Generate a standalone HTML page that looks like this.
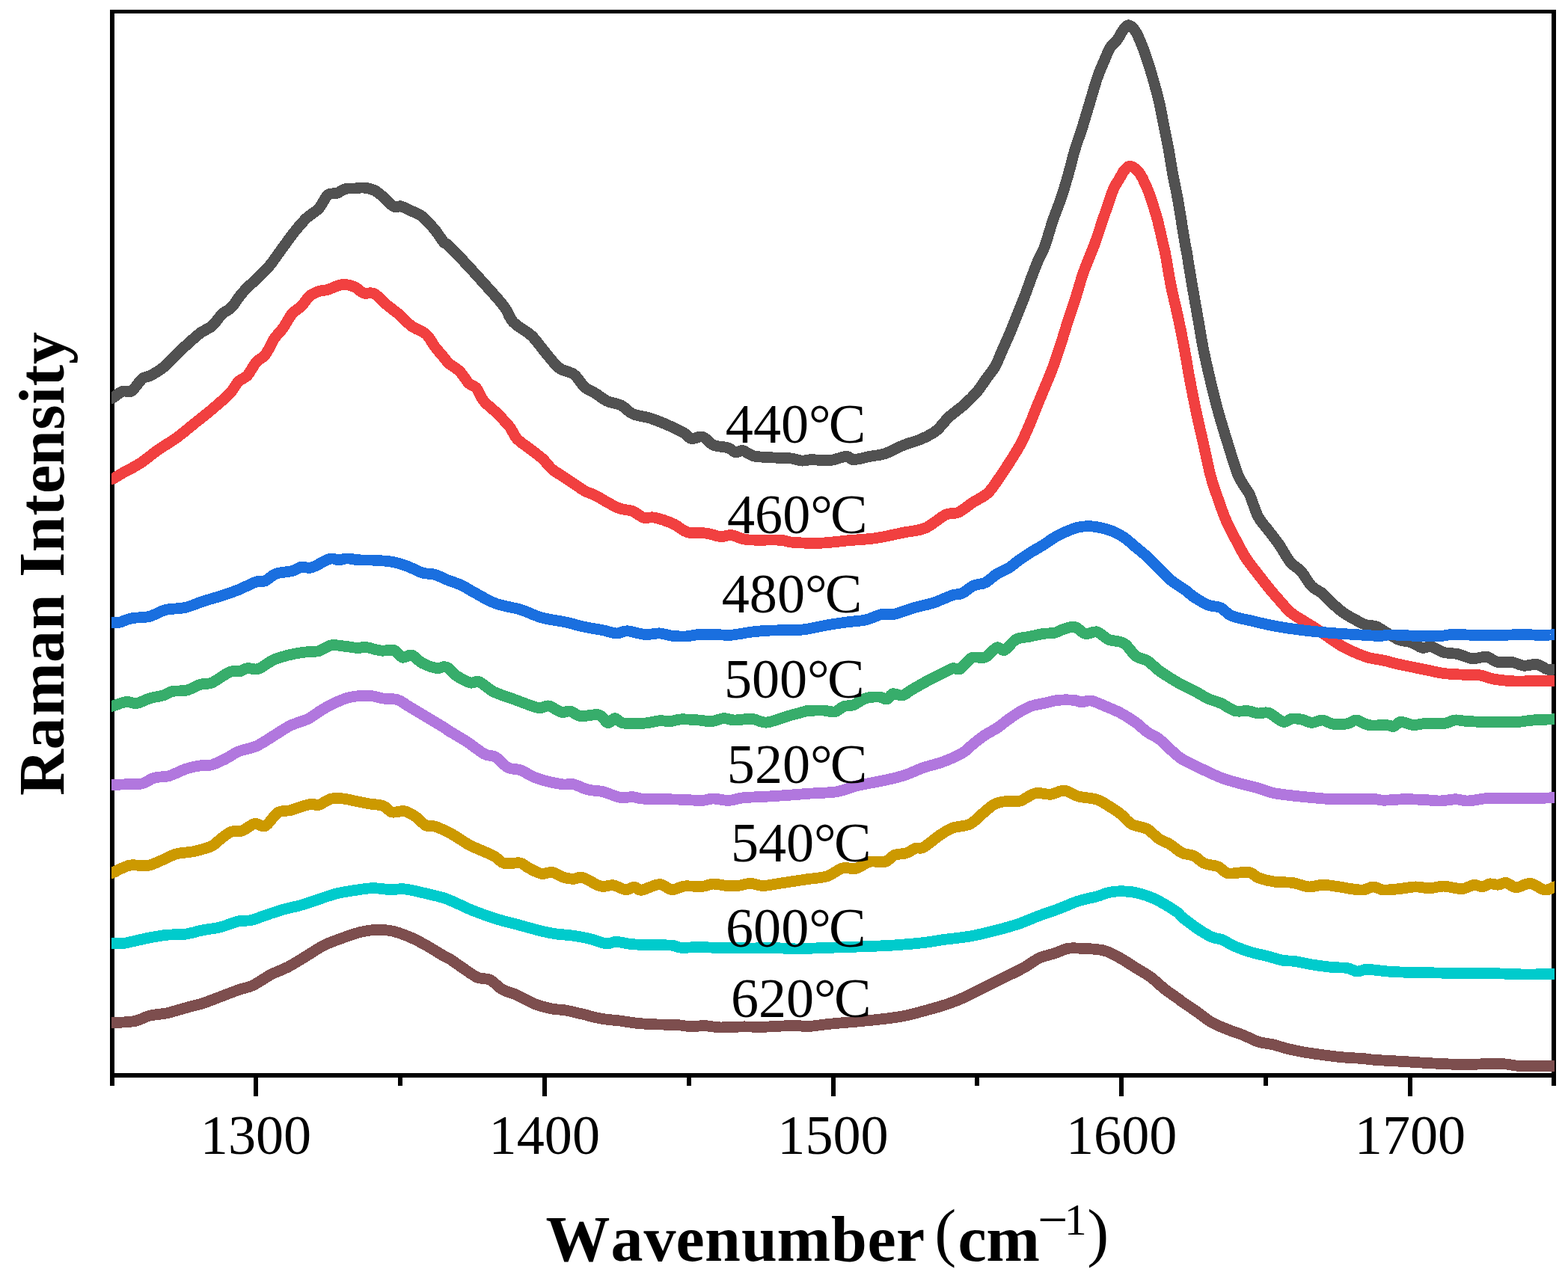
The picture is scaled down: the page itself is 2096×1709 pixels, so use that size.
<!DOCTYPE html>
<html lang="en"><head><meta charset="utf-8"><title>Raman spectra</title>
<style>html,body{margin:0;padding:0;background:#fff}body{width:2096px;height:1709px;overflow:hidden}svg{display:block}text{font-family:"Liberation Serif",serif;fill:#000;font-kerning:none}.tk{font-size:74.2px}.lb{font-size:74.2px}.ax{font-size:86px;font-weight:bold}.rg{font-weight:normal}.cv{fill:none;stroke-width:14.8;stroke-linejoin:round;stroke-linecap:butt}</style></head><body>
<svg width="2096" height="1709" viewBox="0 0 2096 1709">
<rect width="2096" height="1709" fill="#fff"/>
<defs><clipPath id="cp"><rect x="149" y="0" width="1929" height="1441"/></clipPath></defs>
<g fill="#000" shape-rendering="crispEdges">
<rect x="147" y="13" width="6" height="1439"/>
<rect x="2074" y="13" width="6" height="1439"/>
<rect x="147" y="13" width="1933" height="5"/>
<rect x="147" y="1435" width="1933" height="6"/>
<rect x="339" y="1435" width="6" height="31"/>
<rect x="725" y="1435" width="6" height="31"/>
<rect x="1111" y="1435" width="6" height="31"/>
<rect x="1496" y="1435" width="6" height="31"/>
<rect x="1882" y="1435" width="6" height="31"/>
<rect x="532" y="1435" width="6" height="17"/>
<rect x="918" y="1435" width="6" height="17"/>
<rect x="1303" y="1435" width="6" height="17"/>
<rect x="1689" y="1435" width="6" height="17"/>
</g>
<g clip-path="url(#cp)" shape-rendering="crispEdges">
<path class="cv" stroke="#515151" d="M147.0,532.0C147.6,532.0 147.9,533.5 150.7,532.0C153.5,530.5 159.7,524.7 163.9,523.2C168.1,521.7 171.4,525.8 175.8,523.0C180.2,520.2 185.7,510.0 190.1,506.5C194.5,503.0 197.2,504.4 202.0,501.8C206.8,499.2 213.1,495.6 218.7,491.0C224.3,486.4 229.8,479.7 235.4,474.3C241.0,468.9 246.5,463.8 252.1,458.8C257.7,453.8 263.6,448.3 268.8,444.5C274.0,440.7 278.3,440.4 283.1,436.2C287.9,432.0 293.0,423.7 297.4,419.5C301.8,415.3 305.0,415.7 309.4,411.1C313.8,406.5 318.1,398.4 323.7,392.0C329.3,385.6 336.8,378.9 342.8,373.0C348.8,367.1 353.9,362.9 359.5,356.3C365.1,349.7 370.6,341.2 376.2,333.6C381.8,326.0 387.3,317.9 392.9,310.9C398.5,303.9 404.1,297.2 409.6,291.8C415.2,286.4 421.4,283.9 426.2,278.7C431.0,273.5 434.2,264.2 438.2,260.8C442.2,257.4 446.1,259.8 450.1,258.4C454.1,257.0 458.0,253.6 462.0,252.5C466.0,251.4 470.0,252.2 474.0,252.0C478.0,251.8 481.5,250.6 485.9,251.0C490.3,251.4 495.8,252.4 500.2,254.4C504.6,256.4 507.7,259.6 512.1,263.2C516.5,266.8 522.5,274.2 526.5,276.3C530.5,278.4 532.0,274.9 536.0,275.9C540.0,276.9 545.5,280.0 550.3,282.3C555.1,284.6 559.4,285.3 564.6,289.5C569.8,293.7 576.5,301.6 581.3,307.3C586.1,313.1 590.2,320.4 593.3,324.0C596.4,327.6 594.8,323.5 600.0,328.6C605.2,333.7 616.4,345.6 624.6,354.4C632.8,363.2 640.9,372.2 649.1,381.4C657.3,390.6 667.6,401.5 673.7,409.7C679.9,417.9 679.9,424.1 686.0,430.6C692.1,437.2 703.6,442.4 710.6,449.0C717.6,455.6 721.7,462.7 727.8,469.9C733.9,477.1 740.8,486.9 747.4,492.0C754.0,497.1 761.4,496.3 767.1,500.6C772.8,504.9 776.9,513.5 781.8,517.8C786.7,522.1 791.7,523.3 796.6,526.4C801.5,529.5 805.6,533.5 811.3,536.2C817.0,538.9 825.3,539.5 831.0,542.4C836.7,545.3 839.2,550.5 845.7,553.4C852.2,556.3 862.1,556.9 870.3,559.6C878.5,562.3 887.4,566.1 894.8,569.4C902.2,572.7 909.6,576.3 914.5,579.2C919.4,582.1 920.2,585.8 924.3,586.6C928.4,587.4 934.2,582.7 939.1,584.1C944.0,585.5 948.1,592.7 953.8,595.2C959.5,597.7 968.6,597.3 973.5,598.9C978.4,600.5 980.0,604.4 983.3,605.0C986.6,605.6 989.0,601.8 993.1,602.6C997.2,603.4 1001.3,608.4 1007.9,609.9C1014.5,611.4 1024.2,611.4 1032.4,611.9C1040.6,612.4 1050.5,612.2 1057.0,612.9C1063.5,613.6 1067.1,615.8 1071.7,616.1C1076.3,616.4 1078.4,614.8 1084.6,614.7C1090.8,614.6 1101.3,616.4 1109.1,615.7C1116.9,615.0 1126.0,610.5 1131.3,610.3C1136.6,610.1 1135.8,614.7 1141.1,614.7C1146.4,614.7 1156.2,611.6 1163.2,610.3C1170.2,608.9 1175.5,609.1 1182.9,606.6C1190.3,604.1 1199.2,598.8 1207.4,595.5C1215.6,592.2 1224.6,590.2 1232.0,586.9C1239.4,583.6 1245.5,580.8 1251.6,575.9C1257.7,571.0 1262.6,563.1 1268.8,557.4C1275.0,551.7 1282.3,547.0 1288.5,541.5C1294.7,536.0 1300.8,530.0 1305.7,524.3C1310.6,518.6 1313.9,512.8 1318.0,507.1C1322.1,501.4 1326.6,496.4 1330.3,489.9C1334.0,483.3 1336.8,475.2 1340.1,467.8C1343.4,460.4 1346.6,453.5 1349.9,445.7C1353.2,437.9 1356.5,429.3 1359.8,421.1C1363.1,412.9 1366.3,405.1 1369.6,396.5C1372.9,387.9 1376.1,378.1 1379.4,369.5C1382.7,360.9 1386.3,351.7 1389.2,344.9C1392.1,338.1 1393.9,336.9 1396.9,328.6C1399.9,320.3 1403.7,305.8 1407.4,294.9C1411.1,284.0 1415.5,273.8 1419.0,263.3C1422.5,252.8 1425.5,242.2 1428.5,231.7C1431.5,221.2 1433.8,210.6 1436.9,200.1C1440.1,189.6 1444.1,179.0 1447.4,168.5C1450.7,158.0 1453.7,147.4 1456.9,136.9C1460.1,126.4 1463.4,114.1 1466.4,105.3C1469.4,96.5 1471.8,91.2 1474.8,84.2C1477.8,77.2 1481.1,68.5 1484.3,63.2C1487.5,58.0 1491.2,56.2 1493.8,52.7C1496.4,49.2 1497.6,45.3 1500.1,42.1C1502.5,38.9 1505.5,33.7 1508.5,33.7C1511.5,33.7 1514.8,37.2 1518.0,42.1C1521.2,47.0 1524.7,56.2 1527.5,63.2C1530.3,70.2 1532.5,77.2 1534.8,84.2C1537.1,91.2 1538.7,96.5 1541.2,105.3C1543.7,114.1 1547.1,126.4 1549.6,136.9C1552.0,147.4 1553.8,158.0 1555.9,168.5C1558.0,179.0 1560.3,189.6 1562.2,200.1C1564.1,210.6 1565.6,221.2 1567.5,231.7C1569.4,242.2 1571.9,252.8 1573.8,263.3C1575.7,273.8 1577.3,284.4 1579.1,294.9C1580.8,305.4 1583.0,319.0 1584.3,326.5C1585.6,334.0 1585.2,330.7 1586.8,340.0C1588.4,349.3 1591.3,368.1 1593.7,382.1C1596.1,396.1 1598.6,410.1 1601.1,424.2C1603.6,438.2 1605.7,452.3 1608.5,466.4C1611.3,480.4 1614.6,494.5 1617.9,508.5C1621.2,522.5 1624.6,536.6 1628.5,550.6C1632.4,564.6 1636.7,578.7 1641.1,592.7C1645.5,606.8 1650.9,625.1 1654.8,634.9C1658.7,644.7 1661.6,647.0 1664.3,651.7C1667.0,656.4 1668.2,656.5 1671.1,663.0C1674.0,669.5 1677.7,683.1 1681.9,691.0C1686.1,698.9 1691.4,703.7 1696.2,710.1C1701.0,716.5 1705.7,722.2 1710.5,729.2C1715.3,736.2 1720.0,746.0 1724.8,751.8C1729.6,757.6 1734.3,758.4 1739.1,763.8C1743.9,769.2 1748.6,779.0 1753.4,784.0C1758.2,789.0 1763.0,789.6 1767.8,793.6C1772.6,797.6 1777.3,803.5 1782.1,807.9C1786.9,812.3 1791.6,816.4 1796.4,819.8C1801.2,823.2 1805.9,825.6 1810.7,828.2C1815.5,830.8 1820.2,833.7 1825.0,835.3C1829.8,836.9 1834.5,835.9 1839.3,837.7C1844.1,839.5 1848.4,843.1 1853.6,846.1C1858.8,849.1 1864.7,853.4 1870.3,855.6C1875.9,857.8 1881.8,857.4 1887.0,859.2C1892.2,861.0 1896.9,865.4 1901.3,866.3C1905.7,867.2 1908.5,863.7 1913.3,864.7C1918.1,865.7 1924.0,870.6 1930.0,872.3C1936.0,874.0 1942.8,873.3 1949.1,874.7C1955.4,876.1 1961.8,880.1 1968.1,880.7C1974.4,881.3 1981.6,877.5 1987.2,878.3C1992.8,879.1 1995.9,884.2 2001.5,885.4C2007.1,886.6 2014.6,884.6 2020.6,885.4C2026.6,886.2 2031.7,889.7 2037.3,890.2C2042.9,890.7 2048.8,887.7 2054.0,888.5C2059.2,889.3 2064.3,893.9 2068.3,895.0C2072.3,896.1 2076.0,895.0 2077.9,895.0C2079.8,895.0 2079.7,895.0 2080.0,895.0"/>
<path class="cv" stroke="#f14040" d="M147.0,639.9C147.8,639.9 148.7,641.1 151.5,639.9C154.3,638.7 157.9,636.0 163.9,632.6C169.9,629.2 179.8,624.5 187.7,619.3C195.6,614.1 203.6,607.0 211.6,601.4C219.6,595.8 227.4,591.7 235.4,585.9C243.4,580.1 251.4,573.2 259.3,566.8C267.2,560.4 275.2,554.5 283.1,547.7C291.1,540.9 301.0,532.5 307.0,526.2C313.0,519.9 314.9,514.1 318.9,510.1C322.9,506.1 326.8,506.4 330.8,502.0C334.8,497.6 338.8,488.5 342.8,483.9C346.8,479.3 350.7,479.5 354.7,474.3C358.7,469.1 362.6,458.9 366.6,452.9C370.6,446.9 374.5,444.1 378.5,438.5C382.5,432.9 386.5,424.3 390.5,419.5C394.5,414.7 398.4,413.9 402.4,409.9C406.4,405.9 410.3,399.0 414.3,395.6C418.3,392.2 422.2,391.0 426.2,389.6C430.2,388.2 433.0,388.8 438.2,387.3C443.4,385.8 451.3,381.2 457.3,380.6C463.3,380.0 469.2,381.8 474.0,383.7C478.8,385.6 481.5,390.5 485.9,392.0C490.3,393.5 495.0,390.1 500.2,392.7C505.4,395.3 511.3,402.8 516.9,407.5C522.5,412.2 528.0,415.9 533.6,420.7C539.2,425.5 544.3,431.8 550.3,436.2C556.3,440.6 564.2,442.3 569.4,446.9C574.6,451.5 577.3,458.4 581.3,463.6C585.3,468.8 590.2,474.2 593.3,477.9C596.4,481.6 596.4,482.7 600.0,485.9C603.6,489.1 610.2,492.4 614.7,496.9C619.2,501.4 623.3,509.2 627.0,512.9C630.7,516.6 633.6,515.1 636.9,519.0C640.2,522.9 642.2,530.7 646.7,536.2C651.2,541.7 658.2,546.5 663.9,552.2C669.6,557.9 676.6,564.9 681.1,570.6C685.6,576.3 686.4,581.7 690.9,586.6C695.4,591.5 702.4,595.6 708.1,600.1C713.8,604.6 720.4,609.1 725.3,613.6C730.2,618.1 733.1,623.2 737.6,627.1C742.1,631.0 747.4,633.7 752.3,637.0C757.2,640.3 762.2,643.5 767.1,646.8C772.0,650.1 776.9,653.9 781.8,656.6C786.7,659.3 791.7,660.3 796.6,662.8C801.5,665.3 806.0,668.5 811.3,671.4C816.6,674.3 822.8,678.0 828.5,680.0C834.2,682.0 840.4,681.6 845.7,683.6C851.0,685.6 855.5,690.8 860.4,692.2C865.3,693.6 868.6,690.8 875.2,692.2C881.8,693.6 892.4,697.1 899.8,700.4C907.2,703.7 912.0,709.8 919.4,711.9C926.8,714.0 936.6,712.1 944.0,713.1C951.4,714.1 957.9,717.2 963.6,717.6C969.3,718.0 972.7,714.9 978.4,715.6C984.1,716.3 987.4,720.6 998.0,721.7C1008.6,722.8 1032.0,721.6 1042.3,722.2C1052.6,722.8 1050.9,724.6 1060.0,725.3C1069.1,726.0 1084.6,726.6 1096.9,726.2C1109.2,725.8 1121.4,723.9 1133.7,722.8C1146.0,721.7 1158.3,721.4 1170.6,719.6C1182.9,717.8 1196.4,714.5 1207.4,712.2C1218.5,710.0 1227.5,710.1 1236.9,706.1C1246.3,702.1 1256.5,691.9 1263.9,688.4C1271.3,684.9 1274.9,688.0 1281.1,685.2C1287.2,682.4 1294.2,676.0 1300.8,671.7C1307.3,667.4 1314.7,664.7 1320.4,659.4C1326.1,654.1 1330.3,646.8 1335.2,639.8C1340.1,632.8 1345.0,625.4 1349.9,617.6C1354.8,609.8 1360.2,601.7 1364.7,593.1C1369.2,584.5 1373.3,574.6 1377.0,566.0C1380.7,557.4 1383.1,550.5 1386.8,541.5C1390.5,532.5 1395.4,521.0 1399.1,512.0C1402.8,503.0 1405.6,496.4 1408.9,487.4C1412.2,478.4 1415.4,468.1 1418.7,457.9C1422.0,447.7 1425.3,436.2 1428.6,426.0C1431.9,415.8 1435.1,406.7 1438.4,396.5C1441.7,386.3 1444.1,376.3 1448.2,364.6C1452.3,352.9 1458.9,338.1 1463.2,326.5C1467.5,314.9 1470.8,303.7 1473.8,294.9C1476.8,286.1 1478.6,280.8 1481.1,273.8C1483.5,266.8 1485.9,258.7 1488.5,252.7C1491.1,246.7 1494.5,242.2 1496.9,238.0C1499.4,233.8 1500.8,230.1 1503.2,227.5C1505.6,224.9 1507.9,221.5 1511.2,222.2C1514.5,222.9 1519.5,226.6 1523.3,231.7C1527.1,236.8 1530.8,245.7 1533.8,252.7C1536.8,259.7 1538.9,266.8 1541.2,273.8C1543.5,280.8 1545.2,286.1 1547.5,294.9C1549.8,303.7 1553.1,319.0 1554.8,326.5C1556.5,334.0 1556.2,330.7 1557.9,340.0C1559.7,349.3 1562.5,368.1 1565.3,382.1C1568.1,396.1 1571.8,410.1 1574.8,424.2C1577.8,438.2 1580.6,452.3 1583.2,466.4C1585.8,480.4 1588.0,494.5 1590.6,508.5C1593.2,522.5 1596.0,536.6 1599.0,550.6C1602.0,564.6 1605.3,578.7 1608.5,592.7C1611.7,606.8 1615.0,623.7 1617.9,634.9C1620.8,646.1 1622.3,649.9 1625.8,660.0C1629.3,670.1 1634.3,685.1 1638.9,695.8C1643.5,706.5 1648.9,716.0 1653.3,724.4C1657.7,732.8 1660.8,739.1 1665.2,745.9C1669.6,752.7 1674.3,758.2 1679.5,765.0C1684.7,771.8 1691.0,780.0 1696.2,786.4C1701.4,792.8 1705.7,797.7 1710.5,803.1C1715.3,808.5 1720.0,814.4 1724.8,818.6C1729.6,822.8 1733.5,824.6 1739.1,828.2C1744.7,831.8 1751.8,835.9 1758.2,840.1C1764.6,844.3 1771.7,849.4 1777.3,853.2C1782.9,857.0 1786.0,859.6 1791.6,862.8C1797.2,866.0 1804.3,869.5 1810.7,872.3C1817.1,875.1 1823.4,877.7 1829.8,879.5C1836.2,881.3 1842.6,881.6 1848.9,883.0C1855.2,884.4 1862.3,886.5 1867.9,887.8C1873.5,889.1 1875.9,889.6 1882.3,890.9C1888.7,892.2 1898.1,894.1 1906.1,895.7C1914.0,897.3 1922.0,899.4 1930.0,900.5C1938.0,901.6 1945.8,901.7 1953.8,902.1C1961.8,902.5 1970.5,901.8 1977.7,902.8C1984.9,903.8 1988.8,906.7 1996.8,908.1C2004.8,909.5 2016.7,910.6 2025.4,911.0C2034.1,911.4 2040.4,910.6 2049.2,910.5C2057.9,910.4 2072.8,910.5 2077.9,910.5C2083.0,910.5 2079.7,910.5 2080.0,910.5"/>
<path class="cv" stroke="#1a6fdf" d="M147.0,832.4C147.6,832.4 148.5,832.4 150.7,832.4C152.9,832.4 155.8,833.1 160.0,832.2C164.2,831.3 169.2,828.1 175.8,826.8C182.4,825.5 192.1,826.3 199.6,824.4C207.1,822.5 213.1,817.6 221.1,815.6C229.1,813.6 239.0,814.4 247.3,812.5C255.7,810.6 263.2,806.8 271.2,804.2C279.2,801.6 287.2,799.6 295.1,797.0C303.1,794.4 310.9,791.8 318.9,788.6C326.8,785.4 336.8,779.9 342.8,777.9C348.8,775.9 350.3,778.5 354.7,776.7C359.1,774.9 363.0,769.4 369.0,767.2C375.0,765.0 384.9,765.1 390.5,763.6C396.1,762.1 398.0,759.1 402.4,758.3C406.8,757.5 410.3,760.6 416.7,758.8C423.1,757.0 434.6,749.1 440.6,747.4C446.6,745.7 448.5,748.9 452.5,748.8C456.5,748.7 460.0,746.9 464.4,746.9C468.8,746.9 472.3,748.4 478.7,748.8C485.1,749.2 494.6,748.8 502.6,749.3C510.6,749.8 519.4,750.3 526.5,751.7C533.6,753.1 539.1,755.2 545.5,757.6C551.9,760.0 558.6,764.2 564.6,766.0C570.6,767.8 575.7,766.8 581.3,768.4C586.9,770.0 592.0,773.1 598.0,775.5C604.0,777.9 611.6,780.2 617.1,782.7C622.6,785.2 623.5,786.6 631.0,790.6C638.5,794.6 651.3,802.7 662.0,806.8C672.7,810.9 685.1,811.9 695.4,815.1C705.7,818.3 714.0,823.1 724.0,825.9C734.0,828.7 745.6,829.7 755.1,831.8C764.6,833.9 772.9,836.5 781.3,838.3C789.6,840.1 798.1,841.2 805.2,842.6C812.4,844.0 818.7,846.7 824.2,846.9C829.8,847.1 832.1,843.5 838.5,843.8C844.9,844.1 855.2,848.0 862.4,848.5C869.6,849.0 875.5,846.6 881.5,846.9C887.5,847.2 892.2,849.5 898.2,850.2C904.2,850.9 911.3,851.2 917.3,850.9C923.3,850.6 927.2,848.9 934.0,848.5C940.8,848.1 950.6,848.4 957.8,848.5C964.9,848.6 968.9,849.9 976.9,849.3C984.9,848.7 996.8,846.0 1005.5,845.0C1014.2,844.0 1019.5,843.5 1029.4,843.1C1039.4,842.7 1056.8,843.0 1065.2,842.6C1073.6,842.2 1073.2,842.1 1080.0,841.0C1086.8,839.9 1097.2,837.4 1105.8,835.9C1114.4,834.4 1122.9,833.2 1131.5,832.0C1140.1,830.8 1149.6,830.6 1157.3,828.9C1165.0,827.2 1171.5,823.0 1177.9,821.7C1184.3,820.4 1188.6,822.7 1195.9,821.2C1203.2,819.7 1213.1,815.2 1221.7,812.7C1230.3,810.2 1238.9,809.0 1247.5,806.2C1256.1,803.4 1266.8,798.0 1273.2,795.9C1279.6,793.8 1281.4,795.5 1286.1,793.4C1290.8,791.3 1296.4,785.5 1301.6,783.1C1306.8,780.7 1311.8,781.8 1317.0,779.2C1322.2,776.6 1327.3,770.8 1332.5,767.6C1337.7,764.4 1342.8,763.1 1347.9,759.9C1353.1,756.7 1358.2,751.9 1363.4,748.3C1368.6,744.6 1373.8,741.2 1378.9,738.0C1384.1,734.8 1389.2,732.2 1394.3,729.0C1399.4,725.8 1404.6,721.6 1409.8,718.6C1415.0,715.6 1420.0,713.1 1425.2,710.9C1430.4,708.7 1435.6,706.4 1440.7,705.2C1445.8,704.0 1450.9,703.6 1456.1,703.7C1461.2,703.8 1466.4,704.7 1471.6,705.8C1476.8,706.9 1481.9,708.3 1487.1,710.4C1492.2,712.5 1497.3,715.1 1502.5,718.6C1507.7,722.1 1512.8,727.2 1518.0,731.5C1523.2,735.8 1528.2,739.7 1533.4,744.4C1538.6,749.1 1543.8,754.8 1548.9,759.9C1554.1,765.0 1558.3,770.4 1564.3,775.3C1570.3,780.2 1579.7,785.6 1585.0,789.5C1590.3,793.4 1591.0,795.1 1596.0,798.4C1601.0,801.7 1609.1,806.7 1615.1,809.1C1621.1,811.5 1626.6,810.3 1631.8,812.7C1637.0,815.1 1638.9,820.4 1646.1,823.4C1653.2,826.4 1665.2,828.3 1674.7,830.6C1684.2,832.9 1692.6,835.0 1703.3,837.0C1714.0,839.0 1727.2,841.0 1739.1,842.5C1751.0,844.0 1763.0,845.1 1774.9,846.1C1786.8,847.1 1799.2,847.8 1810.7,848.5C1822.2,849.2 1836.1,850.3 1844.1,850.4C1852.0,850.5 1850.1,848.9 1858.4,848.9C1866.8,848.9 1883.5,850.1 1894.2,850.4C1904.9,850.7 1914.8,851.1 1922.8,850.8C1930.8,850.5 1932.8,848.7 1941.9,848.5C1951.1,848.3 1967.8,849.4 1977.7,849.6C1987.6,849.8 1991.6,849.8 2001.5,849.6C2011.4,849.4 2027.3,848.5 2037.3,848.5C2047.2,848.5 2054.4,849.6 2061.2,849.6C2068.0,849.6 2074.8,848.7 2077.9,848.5C2081.0,848.3 2079.7,848.5 2080.0,848.5"/>
<path class="cv" stroke="#37ad6b" d="M147.0,944.0C147.6,944.0 147.1,944.9 150.7,944.0C154.3,943.1 163.2,939.2 168.6,938.6C174.0,938.0 177.7,941.3 182.9,940.5C188.1,939.7 193.6,935.8 199.6,934.0C205.6,932.2 213.5,931.3 218.7,929.7C223.9,928.1 225.4,925.6 230.6,924.5C235.8,923.4 243.3,924.6 249.7,923.0C256.1,921.4 263.2,916.7 268.8,915.0C274.4,913.3 276.7,915.7 283.1,913.0C289.5,910.3 300.6,901.3 307.0,898.7C313.4,896.1 317.3,898.4 321.3,897.5C325.3,896.6 326.8,894.0 330.8,893.5C334.8,893.0 339.2,896.3 345.2,894.4C351.2,892.5 359.1,885.2 366.6,882.0C374.2,878.8 382.6,876.7 390.5,874.9C398.4,873.1 408.4,872.0 414.3,871.3C420.2,870.6 421.4,872.0 426.2,870.6C431.0,869.2 436.9,863.9 442.9,862.9C448.9,861.9 456.0,863.8 462.0,864.4C468.0,865.0 474.3,866.4 478.7,866.5C483.1,866.6 483.1,864.7 488.3,865.3C493.5,865.9 503.4,869.4 509.8,870.1C516.2,870.8 521.7,868.1 526.5,869.6C531.3,871.1 534.4,878.1 538.4,879.2C542.4,880.3 545.9,874.8 550.3,876.1C554.7,877.4 559.0,883.9 564.6,886.8C570.2,889.7 578.9,892.7 583.7,893.5C588.5,894.3 590.6,891.5 593.3,891.6C596.0,891.7 597.2,891.9 600.0,893.9C602.8,895.9 605.2,900.3 610.0,903.5C614.8,906.7 623.5,911.6 628.6,913.0C633.7,914.4 635.4,909.8 640.6,911.8C645.8,913.8 651.7,920.9 659.6,924.9C667.5,928.9 678.3,932.0 688.3,935.6C698.2,939.2 711.8,945.0 719.3,946.4C726.8,947.8 728.4,943.0 733.6,944.0C738.8,945.0 745.5,951.1 750.3,952.3C755.1,953.5 757.8,950.2 762.2,951.1C766.6,952.0 770.1,956.8 776.5,957.6C782.9,958.4 794.4,954.4 800.4,955.9C806.4,957.4 808.7,965.8 812.3,966.6C815.9,967.4 818.3,960.6 821.9,960.7C825.5,960.8 827.0,966.0 833.8,967.1C840.5,968.2 854.4,967.7 862.4,967.1C870.4,966.5 875.9,964.2 881.5,963.8C887.1,963.4 891.0,965.0 895.8,964.7C900.6,964.4 903.7,962.2 910.1,961.9C916.5,961.6 927.2,962.5 934.0,963.0C940.8,963.5 945.1,965.1 950.7,964.7C956.3,964.3 962.2,961.0 967.4,960.7C972.6,960.4 975.4,962.9 981.7,963.0C988.1,963.1 998.4,960.9 1005.5,961.4C1012.6,961.9 1016.6,966.7 1024.6,966.1C1032.5,965.5 1044.5,960.1 1053.2,957.6C1062.0,955.1 1072.6,952.3 1077.1,951.1C1081.6,949.9 1076.1,950.7 1080.0,950.5C1083.9,950.3 1094.6,949.8 1100.6,950.0C1106.6,950.2 1111.4,952.7 1116.0,951.8C1120.6,950.9 1123.8,946.1 1128.0,944.6C1132.2,943.1 1136.1,944.4 1141.0,942.6C1145.9,940.8 1151.6,935.6 1157.3,933.8C1163.0,932.0 1170.6,931.8 1175.3,932.0C1180.0,932.2 1182.6,935.7 1185.6,935.0C1188.6,934.3 1190.0,928.6 1193.4,927.8C1196.8,926.9 1201.9,930.8 1206.2,929.9C1210.5,929.0 1213.5,925.4 1219.1,922.2C1224.7,919.0 1232.8,914.2 1239.7,910.6C1246.6,907.0 1254.7,903.1 1260.3,900.3C1265.9,897.5 1269.3,894.8 1273.2,893.8C1277.1,892.8 1279.2,896.8 1283.5,894.4C1287.8,892.0 1293.4,882.3 1299.0,879.7C1304.6,877.1 1311.4,881.2 1317.0,878.9C1322.6,876.6 1328.2,867.6 1332.5,866.0C1336.8,864.4 1338.5,871.2 1342.8,869.4C1347.1,867.6 1352.6,858.2 1358.2,855.2C1363.8,852.2 1370.3,852.6 1376.3,851.3C1382.3,850.0 1388.7,848.4 1394.3,847.5C1399.9,846.6 1405.1,847.3 1409.8,846.2C1414.5,845.1 1418.1,842.3 1422.6,841.0C1427.1,839.7 1432.1,837.3 1436.8,838.4C1441.5,839.5 1446.1,846.4 1451.0,847.5C1455.9,848.6 1461.2,843.6 1466.4,844.9C1471.6,846.2 1475.9,852.6 1481.9,855.2C1487.9,857.8 1496.5,856.6 1502.5,860.3C1508.5,863.9 1512.8,873.2 1518.0,877.1C1523.2,881.0 1528.2,880.3 1533.4,883.5C1538.6,886.7 1543.8,892.5 1548.9,896.4C1554.1,900.3 1559.2,903.5 1564.3,906.7C1569.4,909.9 1574.5,912.9 1579.8,915.7C1585.1,918.5 1590.1,920.5 1596.0,923.6C1601.9,926.7 1609.1,931.5 1615.1,934.3C1621.1,937.1 1625.8,937.6 1631.8,940.3C1637.8,943.0 1644.9,948.9 1650.9,950.6C1656.9,952.3 1662.4,950.1 1667.6,950.6C1672.8,951.1 1677.1,953.4 1681.9,953.9C1686.7,954.4 1690.6,951.5 1696.2,953.4C1701.8,955.3 1710.1,964.0 1715.3,965.3C1720.5,966.6 1722.8,961.5 1727.2,961.0C1731.6,960.5 1737.1,961.6 1741.5,962.5C1745.9,963.4 1749.0,966.4 1753.4,966.5C1757.8,966.6 1763.0,962.7 1767.8,963.0C1772.6,963.3 1776.5,967.4 1782.1,968.2C1787.7,969.0 1796.0,968.6 1801.2,967.7C1806.4,966.8 1808.3,962.7 1813.1,963.0C1817.9,963.3 1823.0,968.5 1829.8,969.6C1836.5,970.7 1848.0,969.3 1853.6,969.6C1859.2,969.9 1860.0,972.0 1863.2,971.3C1866.4,970.6 1868.3,965.6 1872.7,965.3C1877.1,965.0 1883.8,969.3 1889.4,969.6C1895.0,969.9 1899.3,967.6 1906.1,967.3C1912.9,967.0 1923.6,968.4 1930.0,967.7C1936.4,967.0 1939.5,963.6 1944.3,963.0C1949.1,962.4 1953.0,963.8 1958.6,964.2C1964.2,964.6 1970.5,965.1 1977.7,965.3C1984.9,965.5 1993.5,965.2 2001.5,965.3C2009.5,965.4 2017.5,966.2 2025.4,965.8C2033.4,965.4 2040.4,963.7 2049.2,963.0C2057.9,962.3 2072.8,962.0 2077.9,961.8C2083.0,961.6 2079.7,961.8 2080.0,961.8"/>
<path class="cv" stroke="#b177de" d="M147.0,1049.5C147.6,1049.5 145.9,1049.7 150.7,1049.5C155.5,1049.3 169.2,1048.8 175.8,1048.5C182.4,1048.2 184.9,1049.2 190.1,1047.8C195.3,1046.4 200.8,1041.7 206.8,1040.0C212.8,1038.3 219.2,1039.5 225.9,1037.6C232.7,1035.7 240.6,1031.0 247.3,1028.7C254.1,1026.4 260.4,1025.0 266.4,1024.0C272.4,1023.0 277.1,1024.4 283.1,1022.8C289.1,1021.2 296.2,1017.4 302.2,1014.4C308.2,1011.4 312.1,1007.7 318.9,1004.9C325.7,1002.1 334.9,1001.3 342.8,997.7C350.8,994.1 359.1,988.0 366.6,983.4C374.2,978.8 380.6,974.0 388.1,970.3C395.7,966.6 404.8,964.8 411.9,961.2C419.0,957.6 424.6,952.5 431.0,948.8C437.4,945.1 443.7,941.6 450.1,938.8C456.5,936.0 462.0,933.5 469.2,932.1C476.4,930.7 486.0,929.9 493.1,930.2C500.2,930.5 505.8,933.1 512.1,934.0C518.5,934.9 525.6,934.0 531.2,935.7C536.8,937.4 539.1,940.2 545.5,944.0C551.9,947.8 561.4,953.6 569.4,958.4C577.4,963.2 588.2,969.5 593.3,972.7C598.4,975.9 594.9,974.2 600.0,977.4C605.1,980.6 615.9,986.5 623.9,991.7C631.9,996.9 641.4,1005.0 647.7,1008.4C654.1,1011.8 656.8,1009.0 662.0,1012.0C667.2,1015.0 673.1,1023.3 678.7,1026.3C684.3,1029.3 689.4,1027.6 695.4,1029.8C701.4,1032.0 708.1,1036.8 714.5,1039.4C720.9,1042.0 727.2,1043.7 733.6,1045.3C740.0,1046.9 747.1,1048.3 752.7,1048.9C758.3,1049.5 761.4,1047.7 767.0,1048.9C772.6,1050.1 779.7,1054.5 786.1,1056.1C792.5,1057.7 798.1,1056.8 805.2,1058.5C812.4,1060.2 822.2,1065.1 829.0,1066.3C835.8,1067.5 840.9,1065.3 845.7,1065.6C850.5,1065.9 850.8,1067.5 857.6,1068.0C864.4,1068.5 877.5,1068.5 886.3,1068.7C895.0,1068.9 901.4,1068.9 910.1,1069.2C918.8,1069.5 931.5,1070.6 938.7,1070.4C945.9,1070.2 947.1,1068.0 953.1,1068.0C959.1,1068.0 967.8,1070.6 974.5,1070.4C981.2,1070.2 984.5,1067.7 993.6,1066.8C1002.8,1065.9 1017.5,1065.6 1029.4,1064.9C1041.3,1064.2 1056.8,1063.1 1065.2,1062.5C1073.6,1061.9 1071.1,1061.9 1080.0,1061.3C1088.9,1060.7 1107.9,1060.4 1118.6,1058.7C1129.3,1057.0 1133.7,1053.6 1144.4,1051.0C1155.2,1048.4 1172.4,1045.7 1183.1,1043.3C1193.8,1040.9 1200.2,1039.6 1208.8,1036.8C1217.4,1034.0 1226.0,1029.5 1234.6,1026.5C1243.2,1023.5 1251.7,1022.0 1260.3,1018.8C1268.9,1015.6 1279.2,1011.3 1286.1,1007.2C1293.0,1003.1 1296.4,998.4 1301.6,994.3C1306.8,990.2 1311.8,986.1 1317.0,982.7C1322.2,979.3 1327.3,977.1 1332.5,973.7C1337.7,970.3 1342.8,965.8 1347.9,962.1C1353.1,958.5 1358.2,954.8 1363.4,951.8C1368.6,948.8 1373.8,946.0 1378.9,944.1C1384.1,942.2 1388.3,942.0 1394.3,940.7C1400.3,939.4 1408.0,937.0 1414.9,936.3C1421.8,935.6 1430.3,935.9 1435.5,936.3C1440.7,936.7 1441.9,938.8 1445.8,938.9C1449.7,939.0 1453.5,936.2 1458.7,937.1C1463.9,938.0 1470.2,941.4 1476.7,944.1C1483.2,946.8 1490.5,949.5 1497.4,953.1C1504.3,956.8 1512.0,961.7 1518.0,966.0C1524.0,970.3 1528.2,975.2 1533.4,978.9C1538.6,982.5 1543.8,984.0 1548.9,987.9C1554.1,991.8 1559.1,997.5 1564.3,1002.0C1569.5,1006.5 1572.9,1010.6 1580.0,1015.0C1587.1,1019.4 1597.9,1024.2 1606.9,1028.5C1615.9,1032.8 1624.8,1037.2 1633.8,1040.6C1642.8,1043.9 1652.7,1046.4 1660.8,1048.6C1668.9,1050.8 1675.6,1052.1 1682.3,1054.0C1689.0,1055.9 1693.5,1058.5 1701.1,1060.2C1708.7,1061.9 1719.0,1062.9 1728.0,1064.0C1737.0,1065.1 1746.0,1065.9 1755.0,1066.7C1764.0,1067.5 1772.9,1068.5 1781.9,1068.8C1790.9,1069.1 1799.8,1068.4 1808.8,1068.3C1817.8,1068.2 1829.0,1068.0 1835.7,1068.3C1842.4,1068.6 1842.5,1070.1 1849.2,1070.2C1855.9,1070.3 1867.1,1068.9 1876.1,1068.8C1885.1,1068.7 1894.9,1069.0 1903.0,1069.4C1911.1,1069.8 1917.3,1071.1 1924.5,1071.0C1931.7,1070.9 1939.8,1068.8 1946.1,1068.8C1952.4,1068.8 1955.0,1071.2 1962.2,1071.0C1969.4,1070.8 1978.8,1068.1 1989.1,1067.5C1999.4,1066.9 2013.8,1067.5 2024.1,1067.5C2034.4,1067.5 2042.1,1067.6 2051.1,1067.5C2060.1,1067.4 2073.2,1066.8 2078.0,1066.7C2082.8,1066.6 2079.7,1066.7 2080.0,1066.7"/>
<path class="cv" stroke="#cc9900" d="M147.0,1167.1C147.6,1167.1 147.9,1168.2 150.7,1167.1C153.5,1166.0 159.7,1162.3 163.9,1160.6C168.1,1158.9 170.2,1157.3 175.8,1156.8C181.4,1156.3 190.6,1158.6 197.3,1157.5C204.1,1156.4 210.0,1153.0 216.3,1150.4C222.7,1147.8 228.2,1144.0 235.4,1142.0C242.6,1140.0 251.4,1140.3 259.3,1138.5C267.2,1136.7 277.1,1134.1 283.1,1131.3C289.1,1128.5 290.7,1125.0 295.1,1121.8C299.5,1118.6 304.6,1114.0 309.4,1112.2C314.2,1110.4 318.5,1112.8 323.7,1111.0C328.9,1109.2 335.2,1102.6 340.4,1101.5C345.6,1100.4 349.5,1106.9 354.7,1104.4C359.9,1101.9 365.8,1090.2 371.4,1086.7C377.0,1083.2 382.9,1084.9 388.1,1083.6C393.3,1082.3 397.6,1080.2 402.4,1078.8C407.2,1077.4 412.7,1075.6 416.7,1075.2C420.7,1074.8 421.8,1077.6 426.2,1076.4C430.6,1075.2 437.3,1069.5 442.9,1068.1C448.5,1066.7 454.5,1067.6 459.7,1068.1C464.9,1068.6 468.4,1069.9 474.0,1071.0C479.6,1072.1 486.8,1073.7 493.1,1074.8C499.5,1075.9 506.9,1075.7 512.1,1077.6C517.3,1079.5 519.3,1084.8 524.1,1086.0C528.9,1087.2 535.6,1083.8 540.8,1084.8C546.0,1085.8 550.3,1088.7 555.1,1091.9C559.9,1095.1 565.0,1101.7 569.4,1103.9C573.8,1106.1 576.5,1103.7 581.3,1105.1C586.1,1106.5 593.2,1109.9 598.0,1112.2C602.8,1114.5 604.9,1115.9 610.0,1119.0C615.1,1122.1 620.3,1126.4 628.6,1130.6C636.9,1134.8 652.0,1140.4 659.6,1144.4C667.2,1148.4 668.0,1152.8 674.0,1154.4C680.0,1156.0 689.9,1152.9 695.4,1154.0C700.9,1155.1 702.5,1158.7 707.3,1161.1C712.1,1163.5 718.8,1167.4 724.0,1168.3C729.2,1169.2 733.6,1165.6 738.4,1166.4C743.2,1167.2 747.9,1171.5 752.7,1173.0C757.5,1174.5 762.6,1175.3 767.0,1175.4C771.4,1175.5 772.9,1171.9 778.9,1173.5C784.9,1175.1 796.0,1183.3 802.8,1185.0C809.6,1186.7 813.9,1183.0 819.5,1183.8C825.1,1184.6 831.4,1189.3 836.2,1189.7C841.0,1190.1 844.5,1186.1 848.1,1186.2C851.7,1186.3 852.0,1190.8 857.6,1190.2C863.2,1189.6 874.7,1182.7 881.5,1182.6C888.3,1182.5 892.6,1189.3 898.2,1189.7C903.8,1190.1 908.1,1185.7 914.9,1185.0C921.6,1184.3 932.3,1185.9 938.7,1185.4C945.1,1184.9 947.5,1182.2 953.1,1182.1C958.7,1181.9 966.5,1184.1 972.1,1184.5C977.7,1184.9 981.3,1185.0 986.5,1184.5C991.7,1184.0 997.6,1181.4 1003.1,1181.4C1008.6,1181.4 1013.4,1184.5 1019.8,1184.5C1026.2,1184.5 1033.7,1182.5 1041.3,1181.4C1048.9,1180.3 1058.8,1178.8 1065.2,1177.8C1071.7,1176.8 1073.2,1176.6 1080.0,1175.6C1086.8,1174.6 1098.1,1174.2 1105.8,1171.7C1113.5,1169.2 1120.0,1162.6 1126.4,1160.9C1132.8,1159.2 1138.4,1162.8 1144.4,1161.4C1150.4,1160.0 1156.0,1153.9 1162.4,1152.4C1168.9,1150.9 1177.5,1153.9 1183.1,1152.4C1188.7,1150.9 1191.2,1145.3 1195.9,1143.4C1200.6,1141.5 1206.7,1142.3 1211.4,1140.8C1216.1,1139.3 1220.4,1135.6 1224.3,1134.3C1228.2,1133.0 1229.4,1135.9 1234.6,1133.1C1239.8,1130.3 1248.8,1121.9 1255.2,1117.6C1261.6,1113.3 1266.3,1109.9 1273.2,1107.3C1280.1,1104.7 1290.0,1105.1 1296.4,1102.1C1302.9,1099.1 1306.3,1093.8 1311.9,1089.3C1317.5,1084.8 1323.9,1078.1 1329.9,1075.1C1335.9,1072.1 1342.3,1071.8 1347.9,1071.2C1353.5,1070.6 1357.4,1072.9 1363.4,1071.2C1369.4,1069.5 1377.1,1062.4 1384.0,1060.9C1390.9,1059.4 1398.2,1062.8 1404.6,1062.2C1411.0,1061.6 1416.6,1056.7 1422.6,1057.1C1428.6,1057.5 1433.4,1062.8 1440.7,1064.8C1448.0,1066.8 1459.5,1067.0 1466.4,1069.2C1473.3,1071.4 1476.7,1074.6 1481.9,1077.7C1487.1,1080.8 1492.2,1083.9 1497.4,1088.0C1502.6,1092.1 1506.8,1098.7 1512.8,1102.1C1518.8,1105.5 1527.4,1105.4 1533.4,1108.6C1539.4,1111.8 1543.8,1118.1 1548.9,1121.5C1554.1,1124.9 1559.1,1126.0 1564.3,1129.2C1569.5,1132.4 1574.7,1137.9 1580.0,1140.5C1585.3,1143.1 1591.3,1142.4 1596.2,1144.7C1601.1,1147.0 1604.2,1152.0 1609.6,1154.4C1615.0,1156.8 1623.1,1156.8 1628.5,1159.0C1633.9,1161.2 1635.2,1166.7 1641.9,1167.9C1648.6,1169.1 1662.1,1165.3 1668.8,1166.3C1675.5,1167.3 1676.5,1171.6 1682.3,1173.8C1688.1,1176.0 1696.2,1178.1 1703.8,1179.2C1711.4,1180.3 1720.4,1179.4 1728.0,1180.5C1735.6,1181.6 1742.9,1185.5 1749.6,1185.9C1756.3,1186.4 1761.7,1183.2 1768.4,1183.2C1775.1,1183.2 1783.7,1185.0 1790.0,1185.9C1796.3,1186.8 1800.7,1187.9 1806.1,1188.6C1811.5,1189.3 1817.4,1190.5 1822.3,1190.0C1827.2,1189.5 1831.2,1185.9 1835.7,1185.9C1840.2,1185.9 1843.4,1189.5 1849.2,1190.0C1855.0,1190.5 1863.5,1189.3 1870.7,1188.6C1877.9,1187.9 1885.5,1186.0 1892.2,1185.9C1898.9,1185.8 1904.8,1187.9 1911.1,1187.8C1917.4,1187.7 1922.7,1185.0 1929.9,1185.1C1937.1,1185.2 1947.5,1188.9 1954.2,1188.6C1960.9,1188.3 1965.8,1183.7 1970.3,1183.2C1974.8,1182.8 1977.5,1186.1 1981.1,1185.9C1984.7,1185.7 1988.2,1182.4 1991.8,1181.9C1995.4,1181.5 1999.0,1183.4 2002.6,1183.2C2006.2,1183.0 2009.4,1179.9 2013.4,1180.5C2017.4,1181.1 2021.4,1186.6 2026.8,1186.7C2032.2,1186.8 2039.4,1180.8 2045.7,1181.3C2052.0,1181.8 2059.1,1189.2 2064.5,1190.0C2069.9,1190.8 2075.4,1186.6 2078.0,1185.9C2080.6,1185.2 2079.7,1185.9 2080.0,1185.9"/>
<path class="cv" stroke="#00cbcc" d="M147.0,1261.5C147.6,1261.5 147.7,1261.5 150.7,1261.5C153.7,1261.5 160.8,1261.8 165.0,1261.4C169.2,1261.0 170.0,1260.5 175.8,1259.3C181.6,1258.1 191.7,1255.5 199.6,1254.0C207.5,1252.5 215.6,1251.0 223.5,1250.2C231.4,1249.4 239.4,1250.4 247.3,1249.3C255.2,1248.2 263.2,1245.4 271.2,1243.8C279.2,1242.2 287.2,1241.7 295.1,1239.7C303.1,1237.7 312.1,1233.3 318.9,1231.8C325.6,1230.3 329.6,1231.9 335.6,1230.6C341.6,1229.3 347.6,1226.4 354.7,1224.0C361.8,1221.6 370.6,1218.6 378.5,1216.3C386.4,1214.0 394.4,1212.7 402.4,1210.4C410.3,1208.1 418.2,1205.1 426.2,1202.5C434.1,1199.9 442.1,1196.9 450.1,1194.9C458.1,1192.9 466.1,1191.8 474.0,1190.6C481.9,1189.4 489.9,1187.9 497.8,1187.7C505.8,1187.5 514.5,1189.4 521.7,1189.6C528.9,1189.8 533.6,1188.2 540.8,1188.9C547.9,1189.6 555.9,1191.7 564.6,1193.7C573.4,1195.7 585.4,1198.3 593.3,1200.8C601.2,1203.3 605.7,1205.9 612.0,1208.6C618.3,1211.3 622.7,1213.9 631.0,1217.2C639.3,1220.5 651.3,1225.0 662.0,1228.4C672.7,1231.8 685.1,1234.6 695.4,1237.4C705.7,1240.2 716.0,1243.2 724.0,1245.1C732.0,1247.0 735.9,1247.9 743.1,1248.9C750.3,1249.9 759.0,1250.1 767.0,1251.3C775.0,1252.5 783.6,1254.2 790.8,1256.0C797.9,1257.8 804.3,1261.2 809.9,1261.8C815.5,1262.4 818.6,1259.3 824.2,1259.4C829.8,1259.5 836.1,1261.8 843.3,1262.5C850.5,1263.2 858.1,1263.4 867.2,1263.7C876.4,1264.0 891.1,1263.6 898.2,1264.2C905.4,1264.8 904.1,1266.9 910.1,1267.3C916.1,1267.7 926.0,1266.5 934.0,1266.5C942.0,1266.5 949.8,1267.2 957.8,1267.3C965.8,1267.4 973.8,1267.2 981.7,1267.3C989.7,1267.4 997.5,1268.0 1005.5,1268.0C1013.5,1268.0 1019.9,1267.1 1029.4,1267.3C1039.0,1267.5 1054.4,1268.7 1062.8,1268.9C1071.2,1269.1 1070.7,1268.6 1080.0,1268.3C1089.3,1268.0 1105.7,1267.4 1118.6,1267.0C1131.5,1266.6 1144.4,1266.2 1157.3,1265.7C1170.2,1265.2 1183.0,1264.8 1195.9,1263.9C1208.8,1263.1 1223.9,1261.8 1234.6,1260.6C1245.3,1259.4 1249.6,1258.2 1260.3,1256.7C1271.0,1255.2 1286.1,1254.0 1299.0,1251.6C1311.9,1249.2 1326.9,1245.3 1337.6,1242.5C1348.3,1239.7 1354.8,1237.8 1363.4,1234.8C1372.0,1231.8 1380.6,1227.7 1389.2,1224.5C1397.8,1221.3 1406.3,1218.7 1414.9,1215.5C1423.5,1212.3 1432.1,1208.0 1440.7,1205.2C1449.3,1202.4 1459.5,1200.6 1466.4,1198.7C1473.3,1196.8 1476.7,1194.8 1481.9,1193.6C1487.1,1192.4 1491.4,1191.8 1497.4,1191.8C1503.4,1191.8 1511.1,1192.2 1518.0,1193.6C1524.9,1195.0 1532.2,1197.4 1538.6,1200.0C1545.0,1202.6 1550.6,1205.6 1556.6,1209.1C1562.6,1212.5 1570.8,1217.8 1574.7,1220.7C1578.6,1223.6 1575.5,1222.7 1580.0,1226.3C1584.5,1229.9 1594.8,1237.9 1601.5,1242.4C1608.2,1246.9 1615.0,1250.8 1620.4,1253.2C1625.8,1255.6 1628.9,1254.7 1633.8,1256.7C1638.7,1258.7 1643.3,1262.4 1650.0,1265.3C1656.7,1268.2 1667.0,1271.7 1674.2,1273.9C1681.4,1276.1 1686.4,1276.6 1693.1,1278.3C1699.8,1280.0 1708.3,1283.0 1714.6,1284.2C1720.9,1285.4 1724.0,1284.5 1730.7,1285.5C1737.4,1286.5 1746.5,1288.8 1755.0,1290.1C1763.5,1291.4 1774.3,1292.9 1781.9,1293.6C1789.5,1294.3 1795.3,1293.5 1800.7,1294.4C1806.1,1295.3 1809.7,1298.7 1814.2,1299.0C1818.7,1299.3 1820.9,1296.3 1827.6,1296.3C1834.3,1296.3 1845.6,1298.3 1854.6,1299.0C1863.6,1299.7 1871.2,1300.0 1881.5,1300.3C1891.8,1300.6 1903.9,1300.7 1916.5,1300.9C1929.1,1301.1 1943.5,1301.6 1956.9,1301.7C1970.4,1301.8 1983.8,1301.5 1997.2,1301.7C2010.7,1301.9 2024.1,1302.9 2037.6,1303.0C2051.1,1303.1 2070.9,1302.6 2078.0,1302.5C2085.1,1302.4 2079.7,1302.5 2080.0,1302.5"/>
<path class="cv" stroke="#7d4e4e" d="M147.0,1367.8C147.6,1367.8 145.1,1368.2 150.7,1367.8C156.3,1367.4 172.4,1367.0 180.6,1365.4C188.8,1363.8 192.4,1360.1 199.6,1358.3C206.8,1356.5 215.6,1356.4 223.5,1354.7C231.4,1353.0 239.4,1350.2 247.3,1348.0C255.2,1345.8 263.2,1344.1 271.2,1341.6C279.2,1339.0 287.2,1335.7 295.1,1332.7C303.1,1329.7 311.8,1326.2 318.9,1323.7C326.0,1321.2 330.8,1321.1 338.0,1317.7C345.2,1314.3 353.9,1307.6 361.9,1303.4C369.8,1299.2 377.8,1296.9 385.7,1292.7C393.6,1288.5 401.7,1283.2 409.6,1278.4C417.6,1273.6 425.4,1268.0 433.4,1264.0C441.3,1260.0 449.8,1257.3 457.3,1254.5C464.9,1251.7 471.9,1249.1 478.7,1247.3C485.4,1245.5 490.6,1244.3 497.8,1243.8C505.0,1243.3 513.8,1243.1 521.7,1244.5C529.7,1245.9 537.5,1248.8 545.5,1252.1C553.5,1255.3 561.4,1259.6 569.4,1264.0C577.4,1268.4 588.2,1275.5 593.3,1278.4C598.4,1281.3 595.7,1278.9 600.0,1281.6C604.3,1284.3 612.7,1290.5 619.1,1294.7C625.5,1299.0 632.2,1304.5 638.2,1307.1C644.2,1309.7 649.3,1307.5 654.9,1310.2C660.5,1312.9 665.6,1319.9 671.6,1323.3C677.6,1326.7 683.5,1327.3 690.6,1330.5C697.8,1333.7 706.5,1339.3 714.5,1342.4C722.5,1345.5 731.6,1347.7 738.4,1349.1C745.2,1350.5 748.4,1349.6 755.1,1350.8C761.9,1352.0 771.0,1354.3 778.9,1356.2C786.8,1358.1 794.4,1360.5 802.8,1362.0C811.1,1363.5 821.0,1364.1 829.0,1365.1C837.0,1366.1 843.0,1367.4 850.5,1368.2C858.0,1369.0 865.2,1369.4 874.3,1369.8C883.4,1370.2 896.9,1370.1 905.3,1370.6C913.6,1371.1 918.4,1372.8 924.4,1372.9C930.4,1373.1 934.7,1371.3 941.1,1371.5C947.5,1371.7 953.9,1373.7 962.6,1373.9C971.4,1374.1 984.5,1373.0 993.6,1372.9C1002.8,1372.8 1009.5,1373.5 1017.5,1373.4C1025.5,1373.3 1033.3,1372.5 1041.3,1372.2C1049.2,1371.9 1058.8,1371.4 1065.2,1371.5C1071.7,1371.6 1073.2,1372.9 1080.0,1372.6C1086.8,1372.3 1095.1,1370.7 1105.8,1369.6C1116.5,1368.5 1131.5,1367.4 1144.4,1366.2C1157.3,1365.0 1172.4,1363.6 1183.1,1362.3C1193.8,1361.0 1200.2,1360.2 1208.8,1358.5C1217.4,1356.8 1225.1,1354.6 1234.6,1352.0C1244.0,1349.4 1256.0,1346.2 1265.5,1343.0C1275.0,1339.8 1282.7,1336.6 1291.3,1332.7C1299.9,1328.8 1308.4,1324.1 1317.0,1319.8C1325.6,1315.5 1334.2,1311.3 1342.8,1307.0C1351.4,1302.7 1360.8,1298.4 1368.5,1294.1C1376.2,1289.8 1382.3,1284.4 1389.2,1281.2C1396.1,1278.0 1403.4,1277.0 1409.8,1274.8C1416.2,1272.6 1421.8,1269.4 1427.8,1268.3C1433.8,1267.2 1439.4,1268.1 1445.8,1268.3C1452.2,1268.5 1460.8,1268.9 1466.4,1269.6C1472.0,1270.2 1474.1,1270.3 1479.3,1272.2C1484.5,1274.1 1491.0,1277.6 1497.4,1281.2C1503.9,1284.8 1511.1,1289.8 1518.0,1294.1C1524.9,1298.4 1532.2,1302.3 1538.6,1307.0C1545.0,1311.7 1550.6,1317.7 1556.6,1322.4C1562.6,1327.1 1570.8,1332.5 1574.7,1335.3C1578.6,1338.1 1575.5,1336.4 1580.0,1339.5C1584.5,1342.6 1594.8,1349.4 1601.5,1354.1C1608.2,1358.8 1613.7,1363.8 1620.4,1367.6C1627.1,1371.4 1635.2,1374.3 1641.9,1377.0C1648.6,1379.7 1654.1,1381.1 1660.8,1383.8C1667.5,1386.5 1675.6,1391.0 1682.3,1393.2C1689.0,1395.4 1694.8,1395.2 1701.1,1396.7C1707.4,1398.2 1713.3,1400.4 1720.0,1402.1C1726.7,1403.8 1733.4,1405.3 1741.5,1406.7C1749.6,1408.1 1759.4,1409.5 1768.4,1410.7C1777.4,1411.9 1786.3,1413.1 1795.3,1413.9C1804.3,1414.7 1815.1,1415.0 1822.3,1415.6C1829.5,1416.2 1829.4,1416.8 1838.4,1417.4C1847.4,1418.1 1863.1,1418.7 1876.1,1419.5C1889.1,1420.3 1903.0,1421.3 1916.5,1422.0C1930.0,1422.7 1945.7,1423.5 1956.9,1423.6C1968.1,1423.7 1974.8,1422.9 1983.8,1422.8C1992.8,1422.7 2002.6,1422.3 2010.7,1422.8C2018.8,1423.2 2021.0,1425.0 2032.2,1425.5C2043.4,1426.0 2070.0,1425.5 2078.0,1425.5C2086.0,1425.5 2079.7,1425.5 2080.0,1425.5"/>
</g>
<text class="tk" x="342.0" y="1542.5" text-anchor="middle">1300</text>
<text class="tk" x="727.8" y="1542.5" text-anchor="middle">1400</text>
<text class="tk" x="1113.5" y="1542.5" text-anchor="middle">1500</text>
<text class="tk" x="1499.2" y="1542.5" text-anchor="middle">1600</text>
<text class="tk" x="1885.0" y="1542.5" text-anchor="middle">1700</text>
<text class="lb" x="969.8 1006.9 1044.0 1081.0 1107.8" y="592.2">440°C</text>
<text class="lb" x="972.0 1009.1 1046.2 1083.2 1110.0" y="712.9">460°C</text>
<text class="lb" x="964.7 1001.8 1038.9 1075.9 1102.7" y="819.0">480°C</text>
<text class="lb" x="967.9 1005.0 1042.1 1079.1 1105.9" y="932.9">500°C</text>
<text class="lb" x="971.8 1008.9 1046.0 1083.0 1109.8" y="1047.1">520°C</text>
<text class="lb" x="976.9 1014.0 1051.1 1088.1 1114.9" y="1151.6">540°C</text>
<text class="lb" x="970.0 1007.1 1044.2 1081.2 1108.0" y="1266.1">600°C</text>
<text class="lb" x="976.9 1014.0 1051.1 1088.1 1114.9" y="1360.0">620°C</text>
<text class="ax" y="1686"><tspan x="729.5 816.5 860.6 903.6 942.0 991.0 1038.6 1111.0 1159.5 1198.0 1234.0">Wavenumber </tspan><tspan class="rg" x="1249.3" y="1676.6" font-size="87">(</tspan><tspan x="1280.4 1318.3" y="1686">cm</tspan><tspan class="rg" x="1387" y="1655.2" font-size="71.5">−</tspan><tspan class="rg" x="1422.7" y="1651" font-size="60">1</tspan><tspan class="rg" x="1453.2" y="1676.6" font-size="87">)</tspan></text>
<text class="ax" transform="translate(85,1064) rotate(-90)" x="0.1 61.4 106.3 177.9 221.7 270.0 292.1 325.8 374.2 403.9 441.0 489.2 523.2 547.5 576.9" y="0">Raman Intensity</text>
</svg></body></html>
